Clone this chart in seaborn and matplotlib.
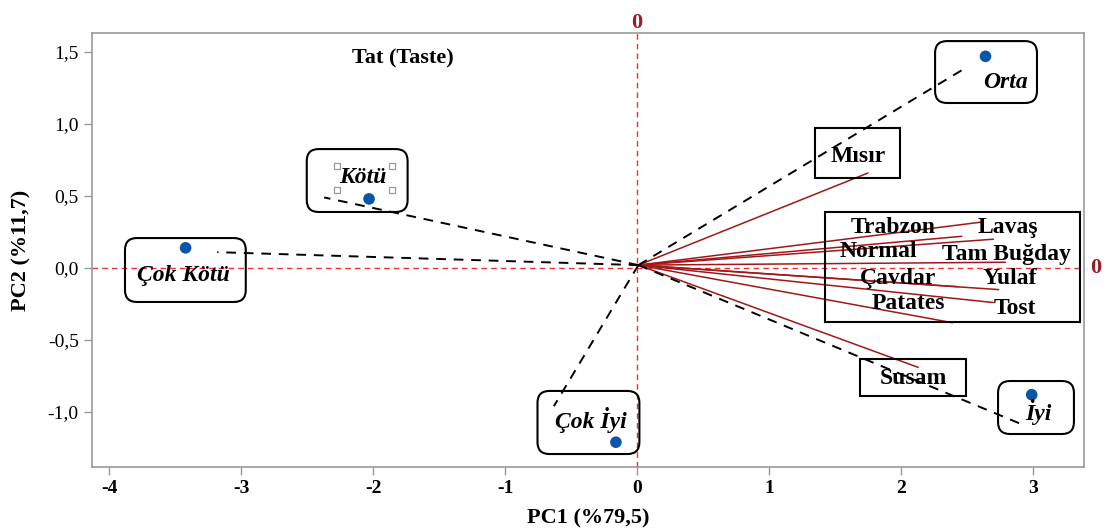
import numpy as np
import pandas as pd
import matplotlib
matplotlib.use("Agg")
import matplotlib.pyplot as plt
import seaborn as sns
from matplotlib.patches import FancyBboxPatch, Rectangle
from matplotlib.ticker import FixedLocator, FuncFormatter

# --- Data ---
# score points (taste categories)
score_names = ['Orta', 'Kötü', 'Çok Kötü', 'Çok İyi', 'İyi']
score_pc1 = [2.64, -2.03, -3.42, -0.16, 2.99]
score_pc2 = [1.47, 0.48, 0.14, -1.21, -0.88]
# end of the dashed line drawn from origin toward each score
score_line_pc1 = [2.49, -2.37, -3.18, -0.63, 2.90]
score_line_pc2 = [1.39, 0.49, 0.11, -0.96, -1.08]

# loading vectors (bread types)
load_names = ['Mısır', 'Trabzon', 'Normal', 'Lavaş', 'Tam Buğday',
              'Yulaf', 'Çavdar', 'Tost', 'Patates', 'Susam']
load_pc1 = [1.75, 2.62, 2.46, 2.70, 2.79, 2.74, 2.43, 2.70, 2.39, 2.13]
load_pc2 = [0.66, 0.32, 0.22, 0.20, 0.04, -0.15, -0.13, -0.24, -0.38, -0.69]
origin = (0.01, 0.02)

x_ticks = [-4, -3, -2, -1, 0, 1, 2, 3]
y_ticks = [-1.0, -0.5, 0.0, 0.5, 1.0, 1.5]

# label positions (data units)
score_label_pos = {'Orta': (2.79, 1.285), 'Kötü': (-2.08, 0.632),
                   'Çok Kötü': (-3.44, -0.05), 'Çok İyi': (-0.35, -1.056),
                   'İyi': (3.04, -1.0)}
score_box = {'Orta': (2.258, 1.146, 3.030, 1.576), 'Kötü': (-2.502, 0.389, -1.738, 0.826),
             'Çok Kötü': (-3.879, -0.236, -2.964, 0.208), 'Çok İyi': (-0.754, -1.292, 0.018, -0.854),
             'İyi': (2.735, -1.153, 3.310, -0.785)}
load_label_pos = {'Mısır': (1.675, 0.771), 'Susam': (2.092, -0.764),
                  'Trabzon': (1.941, 0.278), 'Lavaş': (2.811, 0.278),
                  'Normal': (1.827, 0.118), 'Tam Buğday': (2.796, 0.097),
                  'Çavdar': (1.979, -0.076), 'Yulaf': (2.826, -0.076),
                  'Patates': (2.054, -0.250), 'Tost': (2.863, -0.278)}
load_boxes = [(1.350, 0.625, 1.993, 0.972), (1.426, -0.375, 3.356, 0.389),
              (1.690, -0.889, 2.492, -0.632)]
handles_x = [-2.275, -1.859, -2.275, -1.859]
handles_y = [0.708, 0.708, 0.542, 0.542]

scores = pd.DataFrame({'name': score_names, 'PC1': score_pc1, 'PC2': score_pc2})

# --- Plot ---
sns.set_style("white")
plt.rcParams['font.family'] = ['Liberation Serif', 'DejaVu Serif']
plt.rcParams['text.color'] = 'black'
plt.rcParams['axes.labelcolor'] = 'black'
plt.rcParams['xtick.labelcolor'] = 'black'
plt.rcParams['ytick.labelcolor'] = 'black'

fig = plt.figure(figsize=(11.07, 5.30), dpi=100)
ax = fig.add_axes([0.0831, 0.1189, 0.8961, 0.8188])
xlim = (-4.129, 3.386)
ylim = (-1.382, 1.632)
ax.set_xlim(*xlim)
ax.set_ylim(*ylim)

red_ref = '#ee3030'
ax.axhline(0, color=red_ref, lw=1, ls=(0, (4, 3)), zorder=1)
ax.axvline(0, color=red_ref, lw=1, ls=(0, (4, 3)), zorder=1)

# loading lines
for px, py in zip(load_pc1, load_pc2):
    ax.plot([origin[0], px], [origin[1], py], color='#a01818', lw=1.1, zorder=2)

# dashed score lines
for px, py in zip(score_line_pc1, score_line_pc2):
    ax.plot([origin[0], px], [origin[1], py], color='black', lw=1.4,
            ls=(0, (5, 4)), zorder=3)

sns.scatterplot(data=scores, x='PC1', y='PC2', ax=ax, color='#0a55a8', s=70,
                edgecolor='none', zorder=5, legend=False)

# aspect for rounded corners (y units per pixel / x units per pixel)
px_per_x = ax.get_position().width * 1107 / (xlim[1] - xlim[0])
px_per_y = ax.get_position().height * 530 / (ylim[1] - ylim[0])
asp = px_per_x / px_per_y

for name in score_names:
    x0, y0, x1, y1 = score_box[name]
    ax.add_patch(FancyBboxPatch((x0, y0), x1 - x0, y1 - y0,
                                boxstyle='round,pad=0,rounding_size=0.09',
                                mutation_aspect=asp, fc='none', ec='black',
                                lw=1.5, zorder=4))
    tx, ty = score_label_pos[name]
    ax.text(tx, ty, name, ha='center', va='center', fontsize=17,
            fontweight='bold', style='italic', zorder=6)

ax.plot(handles_x, handles_y, ls='none', marker='s', ms=5, mfc='white',
        mec='#999999', mew=0.9, zorder=6)

for x0, y0, x1, y1 in load_boxes:
    ax.add_patch(Rectangle((x0, y0), x1 - x0, y1 - y0, fc='none', ec='black',
                           lw=1.5, zorder=4))
for name in load_names:
    tx, ty = load_label_pos[name]
    ax.text(tx, ty, name, ha='center', va='center', fontsize=17,
            fontweight='bold', zorder=6)

ax.text(-1.775, 1.458, 'Tat (Taste)', ha='center', va='center', fontsize=16,
        fontweight='bold')

# red zero markers for the reference lines
ax.text(0, 1.0, '0', transform=ax.get_xaxis_transform(), ha='center',
        va='bottom', color='#9b1b2a', fontsize=16, fontweight='bold')
ax.text(1.006, 0, '0', transform=ax.get_yaxis_transform(), ha='left',
        va='center', color='#9b1b2a', fontsize=16, fontweight='bold')

# axes styling
for side in ['top', 'right', 'left', 'bottom']:
    ax.spines[side].set_color('#999999')
    ax.spines[side].set_linewidth(1.2)

comma = FuncFormatter(lambda v, p: f'{v:.1f}'.replace('.', ','))
ax.xaxis.set_major_locator(FixedLocator(x_ticks))
ax.yaxis.set_major_locator(FixedLocator(y_ticks))
ax.yaxis.set_major_formatter(comma)
ax.xaxis.set_major_formatter(FuncFormatter(lambda v, p: f'{v:.0f}'))
ax.tick_params(axis='both', direction='out', length=6, width=1, color='#999999',
               labelcolor='black', bottom=True, left=True)
ax.tick_params(axis='y', labelsize=14)
ax.tick_params(axis='x', labelsize=14)
for lbl in ax.get_xticklabels():
    lbl.set_fontweight('bold')

ax.set_xlabel('PC1 (%79,5)', fontsize=16, fontweight='bold', labelpad=8)
ax.set_ylabel('PC2 (%11,7)', fontsize=16, fontweight='bold', labelpad=12)

fig.savefig('out.png', dpi=100)
